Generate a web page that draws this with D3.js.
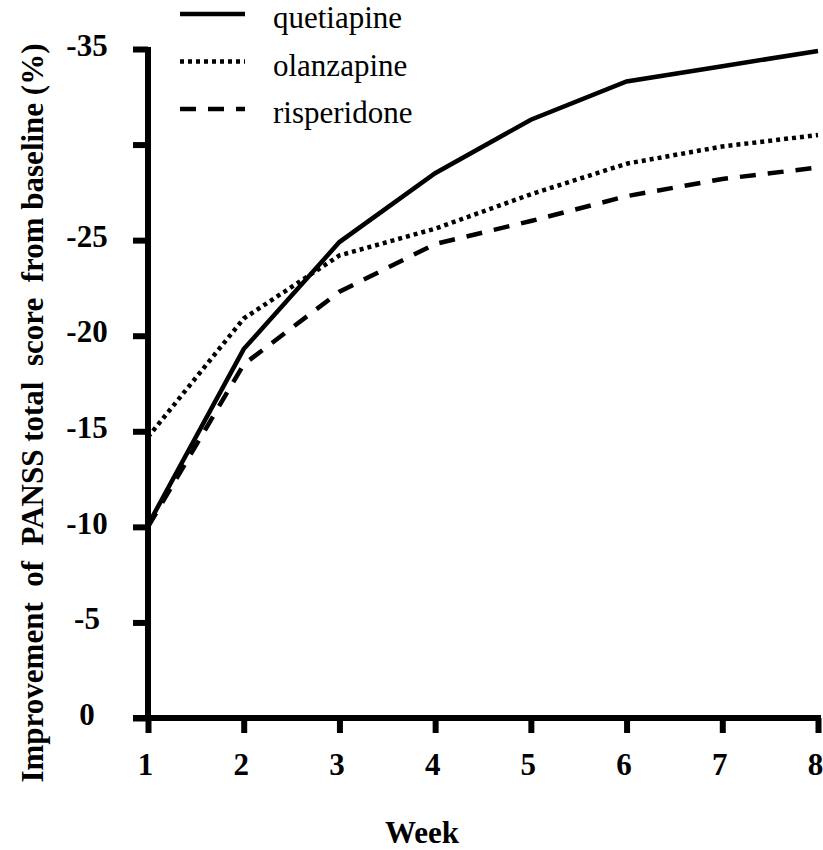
<!DOCTYPE html>
<html>
<head>
<meta charset="utf-8">
<script src="https://cdn.jsdelivr.net/npm/d3@7"></script>
<style>
    body { margin: 0; background: white; }
    svg text { font-family: "Liberation Serif", "Times New Roman", serif; }
</style>
</head>
<body>
<div id="canvas"></div>
<script>
"use strict"

/* data */
let weeks = [1, 2, 3, 4, 5, 6, 7, 8];
let quetiapine = [-10.1, -19.3, -24.9, -28.5, -31.3, -33.3, -34.1, -34.9];
let olanzapine = [-14.7, -20.9, -24.2, -25.6, -27.4, -29.0, -29.9, -30.5];
let risperidone = [-10.0, -18.5, -22.3, -24.8, -26.0, -27.3, -28.2, -28.8];
let drugNames = ["quetiapine", "olanzapine", "risperidone"];
let yTicks = [0, -5, -10, -15, -20, -25, -30, -35];
let yTickLabels = ["0", "-5", "-10", "-15", "-20", "-25", "", "-35"];

/* set up the drawing canvas */
let drawing = d3.select("#canvas")
    .append("svg")
    .attr("width", 823)
    .attr("height", 850);

let x = d3.scaleLinear().domain([1, 8]).range([148, 818]);
let y = d3.scaleLinear().domain([0, -35]).range([718, 49]);

/*y axis*/
let yAxis = drawing.append("g")
    .attr("transform", "translate(148,0)")
    .call(d3.axisLeft(y)
        .tickValues(yTicks)
        .tickSize(15)
        .tickSizeOuter(0)
        .tickFormat((d, i) => yTickLabels[i]));

yAxis.select(".domain").remove();
yAxis.selectAll(".tick line")
    .attr("stroke", "black")
    .attr("stroke-width", 6);
yAxis.selectAll(".tick text")
    .attr("x", -61)
    .attr("dy", "0.2em")
    .attr("text-anchor", "middle")
    .style("font-weight", "bold")
    .style("font-size", "31px")
    .attr("fill", "black");

/*x axis*/
let xAxis = drawing.append("g")
    .attr("transform", "translate(0,718)")
    .call(d3.axisBottom(x)
        .tickValues(weeks)
        .tickSize(15)
        .tickSizeOuter(0)
        .tickFormat(d3.format("d")));

xAxis.select(".domain").remove();
xAxis.selectAll(".tick line")
    .attr("stroke", "black")
    .attr("stroke-width", 6);
xAxis.selectAll(".tick text")
    .attr("y", 57)
    .attr("dy", 0)
    .attr("dx", -3)
    .style("font-weight", "bold")
    .style("font-size", "31px")
    .attr("fill", "black");

/*axis lines*/
let yLine = drawing.append("line")
    .attr("x1", x(1))
    .attr("y1", y(-35) - 2)
    .attr("x2", x(1))
    .attr("y2", y(0))
    .attr("stroke", "black")
    .attr("stroke-width", 6);

let xLine = drawing.append("line")
    .attr("x1", x(1) - 15)
    .attr("y1", y(0))
    .attr("x2", x(8) + 3)
    .attr("y2", y(0))
    .attr("stroke", "black")
    .attr("stroke-width", 6);

/*series lines*/
let series = [quetiapine, olanzapine, risperidone];
let dashes = [null, "4,4", "16,12"];

let line = d3.line()
    .x((d, i) => x(weeks[i]))
    .y(d => y(d));

series.forEach(function (values, k) {
    drawing.append("path")
        .datum(values)
        .attr("d", line)
        .attr("fill", "none")
        .attr("stroke", "black")
        .attr("stroke-width", 4.5)
        .attr("stroke-dasharray", dashes[k]);
});

/*legend*/
drugNames.forEach(function (name, k) {
    let rowY = 14 + k * 47.5;
    drawing.append("line")
        .attr("x1", 180)
        .attr("y1", rowY)
        .attr("x2", 245)
        .attr("y2", rowY)
        .attr("stroke", "black")
        .attr("stroke-width", 4.5)
        .attr("stroke-dasharray", dashes[k]);
    drawing.append("text")
        .attr("x", 273)
        .attr("y", rowY + 14)
        .style("font-size", "31px")
        .attr("fill", "black")
        .text(name);
});

/*axis titles*/
let xTitle = drawing.append("text")
    .attr("x", 422)
    .attr("y", 843)
    .attr("text-anchor", "middle")
    .style("font-weight", "bold")
    .style("font-size", "31px")
    .attr("fill", "black")
    .text("Week");

let yTitle = drawing.append("text")
    .attr("transform", "translate(43,413) rotate(-90)")
    .attr("text-anchor", "middle")
    .style("font-weight", "bold")
    .style("font-size", "31px")
    .attr("fill", "black")
    .style("white-space", "pre")
    .text("Improvement  of  PANSS total  score  from baseline (%)");
</script>
</body>
</html>
